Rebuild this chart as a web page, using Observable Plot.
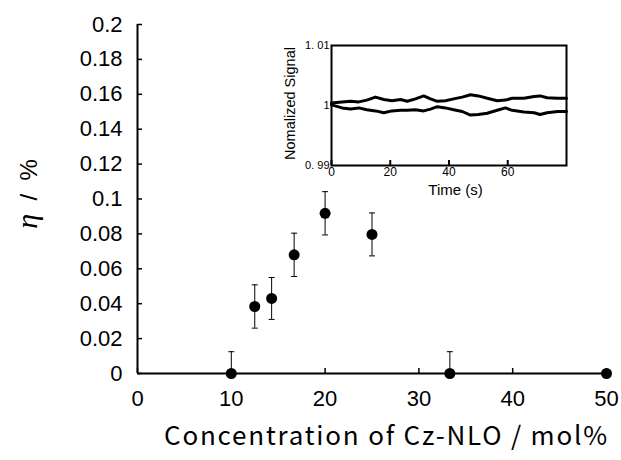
<!DOCTYPE html>
<html><head><meta charset="utf-8">
<script src="https://cdn.jsdelivr.net/npm/d3@7"></script>
<script src="https://cdn.jsdelivr.net/npm/@observablehq/plot@0.6"></script>
<style>
body{margin:0;background:#fff;}
#wrap{position:relative;width:621px;height:460px;}
#inset{position:absolute;left:270px;top:30px;}
</style></head><body>
<div id="wrap"><div id="main"></div><div id="inset"></div></div>
<script>
// Main chart data
const conc = [10, 12.5, 14.3, 16.7, 20, 25, 33.3, 50];
const eta = [0, 0.0384, 0.043, 0.068, 0.0918, 0.0797, 0, 0];
const etaErr = [0.0125, 0.0124, 0.012, 0.0124, 0.0124, 0.0123, 0.0125, 0];
const xTicks = [0, 10, 20, 30, 40, 50];
const yTicks = [0, 0.02, 0.04, 0.06, 0.08, 0.1, 0.12, 0.14, 0.16, 0.18, 0.2];
const xLabel = "Concentration of Cz-NLO / mol%";

// Inset data
const time = [0,3.6,6.5,9.3,12,15,17.8,20.6,23.5,25.8,28.6,31.4,33.7,36,38.8,41.6,44.5,47.3,50,53,56.4,59.2,61.5,65.5,69,71,73.4,77,80];
const signalA = [1.0004,1.0006,1.0007,1.0006,1.0009,1.0014,1.0010,1.0008,1.0010,1.0007,1.0011,1.0016,1.0011,1.0007,1.0008,1.0011,1.0014,1.0018,1.0016,1.0012,1.0008,1.0009,1.0012,1.0012,1.0015,1.0016,1.0013,1.0012,1.0012];
const signalB = [1.0001,0.9996,0.9994,0.9996,0.9993,0.9991,0.9988,0.9991,0.9992,0.9992,0.9993,0.9991,0.9994,0.9998,0.9996,0.9993,0.9990,0.9984,0.9985,0.9987,0.9992,0.9996,0.9992,0.9989,0.9988,0.9985,0.9988,0.9990,0.9990];
const insetXTicks = [0, 20, 40, 60];
const insetYTicks = [0.99, 1, 1.01];
const insetYLabels = ["0. 99", "1", "1. 01"];

const pts = conc.map((c, i) => ({c, y: eta[i], e: etaErr[i], lo: Math.max(0, eta[i] - etaErr[i]), hi: eta[i] + etaErr[i]}));
const errPts = pts.filter(d => d.e > 0);
const capSymbol = {draw(ctx, size) { const w = Math.sqrt(size / Math.PI); ctx.moveTo(-w, 0); ctx.lineTo(w, 0); }};

const main = Plot.plot({
  width: 621, height: 460,
  marginLeft: 137, marginRight: 15, marginTop: 24, marginBottom: 87,
  style: {fontFamily: "'Liberation Sans', Arial, sans-serif", background: "white", color: "black"},
  x: {domain: [0, 50]},
  y: {domain: [0, 0.2]},
  marks: [
    Plot.axisY({ticks: yTicks, tickSize: 5, dx: 5, tickPadding: 15, fontSize: 22, strokeWidth: 1.5, label: null,
      tickFormat: d => String(+d.toFixed(2))}),
    Plot.axisX({ticks: xTicks, tickSize: 5, dy: -5, tickPadding: 17, fontSize: 22, strokeWidth: 1.5, label: null}),
    Plot.ruleX([0], {strokeWidth: 2}),
    Plot.ruleY([0], {strokeWidth: 2}),
    Plot.ruleX(errPts, {x: "c", y1: "lo", y2: "hi", strokeWidth: 1}),
    Plot.dot(errPts, {x: "c", y: "hi", symbol: capSymbol, r: 3, stroke: "black", strokeWidth: 1}),
    Plot.dot(errPts, {x: "c", y: "lo", symbol: capSymbol, r: 3, stroke: "black", strokeWidth: 1}),
    Plot.dot(pts, {x: "c", y: "y", r: 5.5, fill: "black"}),
    Plot.text([xLabel], {text: d => d, frameAnchor: "bottom", textAnchor: "start", dy: 63, dx: -208, fontSize: 26,
      fontFamily: "'Noto Sans CJK JP', sans-serif", lineAnchor: "middle", className: "xlab"}),
    Plot.text(["η / %"], {text: d => d, frameAnchor: "left", textAnchor: "middle", dx: -108, dy: -5, rotate: -90, fontSize: 24,
      lineAnchor: "middle", className: "ylab"})
  ]
});
document.getElementById("main").appendChild(main);

// style x label spacing and eta italic
d3.select(main).selectAll(".xlab text").style("letter-spacing", "1.8px");
d3.select(main).selectAll(".ylab text").each(function() {
  const t = d3.select(this);
  t.text(null);
  t.append("tspan").text("η").style("font-style", "italic").style("font-family", "'Liberation Serif', 'DejaVu Serif', serif").style("font-size", "30px");
  t.append("tspan").text("  /  %");
});

const inset = Plot.plot({
  width: 310, height: 180,
  marginLeft: 61, marginRight: 14, marginTop: 15, marginBottom: 45,
  style: {fontFamily: "'Liberation Sans', Arial, sans-serif", background: "transparent", color: "black"},
  x: {domain: [0, 80]},
  y: {domain: [0.99, 1.01]},
  marks: [
    Plot.frame({strokeWidth: 2}),
    Plot.axisX({ticks: insetXTicks, tickSize: 5, dy: -5, tickPadding: 2, fontSize: 12, strokeWidth: 2, label: null}),
    Plot.axisY({ticks: insetYTicks, tickSize: 0, tickPadding: 2, fontSize: 11, label: null,
      tickFormat: d => insetYLabels[insetYTicks.indexOf(d)]}),
    Plot.line(time, {x: time, y: signalA, strokeWidth: 3, stroke: "black"}),
    Plot.line(time, {x: time, y: signalB, strokeWidth: 3, stroke: "black"}),
    Plot.text(["Time (s)"], {text: d => d, frameAnchor: "bottom", dy: 25, dx: 6.5, fontSize: 15, lineAnchor: "middle"}),
    Plot.text(["Nomalized Signal"], {text: d => d, frameAnchor: "left", textAnchor: "middle", dx: -41, dy: -2, rotate: -90, fontSize: 14.5, lineAnchor: "middle"})
  ]
});
document.getElementById("inset").appendChild(inset);
</script>
</body></html>
